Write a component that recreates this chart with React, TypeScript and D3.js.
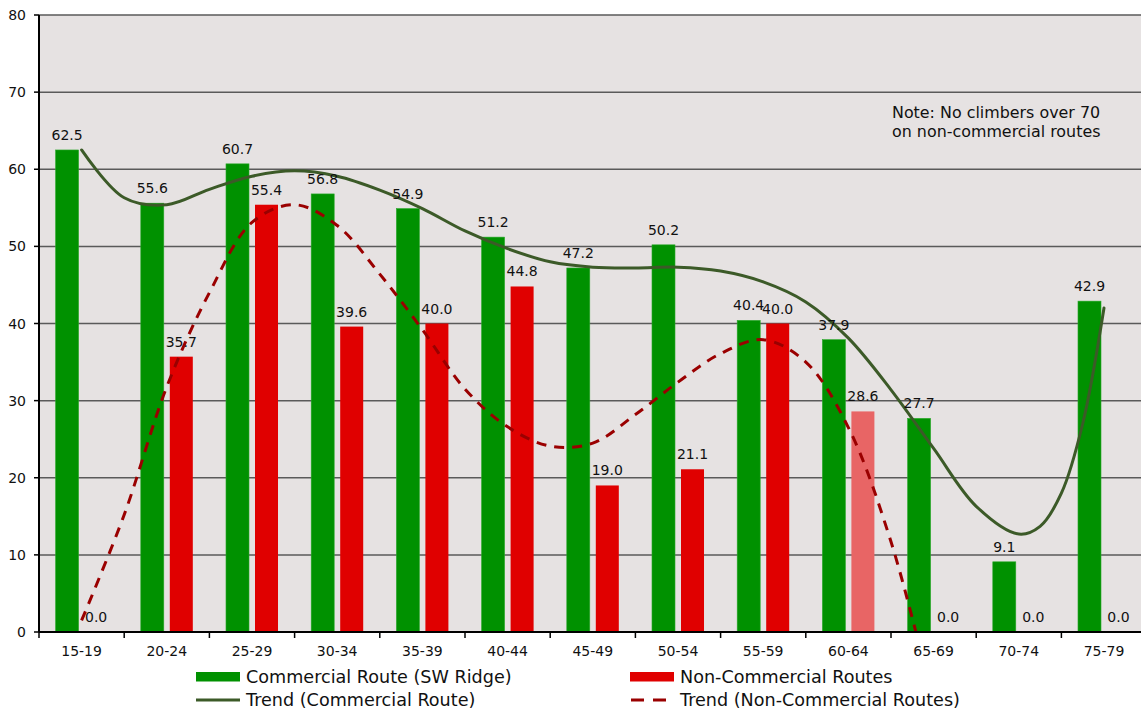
import React from "react";
import * as d3 from "d3";

const categories = ["15-19", "20-24", "25-29", "30-34", "35-39", "40-44", "45-49", "50-54", "55-59", "60-64", "65-69", "70-74", "75-79"];
const commercial = [62.5, 55.6, 60.7, 56.8, 54.9, 51.2, 47.2, 50.2, 40.4, 37.9, 27.7, 9.1, 42.9];
const nonCommercial = [0.0, 35.7, 55.4, 39.6, 40.0, 44.8, 19.0, 21.1, 40.0, 28.6, 0.0, 0.0, 0.0];
// trend values; positions are in category-index units (0 = 15-19)
const commercialTrendPos = [0, 0.5, 1, 1.5, 2, 2.5, 3, 3.5, 4, 4.5, 5, 5.5, 6, 6.5, 7, 7.5, 8, 8.5, 9, 9.5, 10, 10.5, 11, 11.25, 11.5, 11.75, 12];
const commercialTrend = [62.5, 56.3, 55.4, 57.4, 59.1, 59.8, 59.1, 57.3, 54.9, 52.0, 49.7, 48.0, 47.3, 47.2, 47.3, 46.8, 45.4, 42.8, 38.1, 31.4, 23.8, 16.3, 12.7, 13.7, 18.0, 27.0, 42.0];
const nonCommercialTrendPos = [0, 0.5, 1, 1.5, 2, 2.5, 3, 3.5, 4, 4.5, 5, 5.5, 6, 6.5, 7, 7.5, 8, 8.5, 9, 9.5, 10];
const nonCommercialTrend = [1.5, 15.2, 31.8, 44.0, 53.1, 55.4, 52.7, 46.4, 39.2, 31.5, 26.6, 24.1, 24.5, 28.2, 32.4, 36.1, 37.9, 35.0, 26.5, 11.7, -9.2];
const yTicks = [0, 10, 20, 30, 40, 50, 60, 70, 80];
const fadedCategory = "60-64";
const noteLines = ["Note: No climbers over 70", "on non-commercial routes"];
const legendItems = [
  { label: "Commercial Route (SW Ridge)", kind: "bar", color: "#009100" },
  { label: "Non-Commercial Routes", kind: "bar", color: "#e00000" },
  { label: "Trend (Commercial Route)", kind: "line", color: "#3c5a28" },
  { label: "Trend (Non-Commercial Routes)", kind: "dash", color: "#9a0000" },
];

const W = 1141, H = 711;
const left = 39, top = 15, bottom = 632;
const bandW = 85.2;
const right = left + bandW * categories.length;
const FONT = "'DejaVu Sans', Verdana, sans-serif";
const GREEN = "#009100", RED = "#e00000", RED_FADED = "#e86565";
const BG = "#e6e2e2", GRID = "#5a5a5a";
const TREND_G = "#3c5a28", TREND_R = "#9a0000";

export default function App() {
  const x = d3.scaleBand<string>().domain(categories).range([left, right]).padding(0);
  const inner = d3.scaleBand<string>().domain(["c", "n"]).range([0, x.bandwidth()]).paddingInner(0.207).paddingOuter(0.572);
  const y = d3.scaleLinear().domain([0, 80]).range([bottom, top]);
  const c0 = (x(categories[0]) as number) + x.bandwidth() / 2;
  const xt = d3.scaleLinear().domain([0, 1]).range([c0, c0 + x.step()]);

  const lineG = d3.line<number>().x((_, i) => xt(commercialTrendPos[i])).y((d) => y(d)).curve(d3.curveCatmullRom.alpha(0.5));
  const lineR = d3.line<number>().x((_, i) => xt(nonCommercialTrendPos[i])).y((d) => y(d)).curve(d3.curveCatmullRom.alpha(0.5));

  const bw = inner.bandwidth();
  const legendX = [196, 630];
  const legendY = [677, 700];

  return (
    <svg width={W} height={H} style={{ position: "absolute", left: 0, top: 0, fontFamily: FONT }}>
      <defs>
        <clipPath id="plotClip">
          <rect x={left} y={top - 2} width={W - left} height={bottom - top + 2} />
        </clipPath>
      </defs>
      <rect x={0} y={0} width={W} height={H} fill="#ffffff" />
      <rect x={left} y={top} width={right - left} height={bottom - top} fill={BG} />
      {yTicks.map((t) => (
        <g key={t}>
          {t > 0 && <line x1={left} x2={right} y1={y(t)} y2={y(t)} stroke={GRID} strokeWidth={1.5} />}
          <line x1={left - 5} x2={left} y1={y(t)} y2={y(t)} stroke="#000" strokeWidth={1.5} />
          <text x={26} y={y(t) + 5} textAnchor="end" fontSize={14} fill="#111">{t}</text>
        </g>
      ))}
      {categories.map((c, i) => {
        const bx = x(c) as number;
        return (
          <g key={c}>
            <rect x={bx + (inner("c") as number)} y={y(commercial[i])} width={bw} height={bottom - y(commercial[i])} fill={GREEN} stroke="#2aa82a" strokeWidth={0.6} />
            <rect x={bx + (inner("n") as number)} y={y(nonCommercial[i])} width={bw} height={bottom - y(nonCommercial[i])} fill={c === fadedCategory ? RED_FADED : RED} />
          </g>
        );
      })}
      <g clipPath="url(#plotClip)">
        <path d={lineG(commercialTrend) || ""} fill="none" stroke={TREND_G} strokeWidth={3} strokeLinecap="round" />
        <path d={lineR(nonCommercialTrend) || ""} fill="none" stroke={TREND_R} strokeWidth={3} strokeDasharray="10,8" />
      </g>
      {categories.map((c, i) => {
        const bx = x(c) as number;
        return (
          <g key={"l" + c} fontSize={14} fill="#111" textAnchor="middle">
            <text x={bx + (inner("c") as number) + bw / 2} y={y(commercial[i]) - 10}>{commercial[i].toFixed(1)}</text>
            <text x={bx + (inner("n") as number) + bw / 2} y={y(nonCommercial[i]) - 10}>{nonCommercial[i].toFixed(1)}</text>
          </g>
        );
      })}
      <line x1={left} x2={left} y1={top} y2={bottom} stroke="#000" strokeWidth={2} />
      <line x1={left} x2={right} y1={bottom} y2={bottom} stroke="#000" strokeWidth={2} />
      {categories.map((c) => (
        <line key={"t" + c} x1={x(c) as number} x2={x(c) as number} y1={bottom} y2={bottom + 6} stroke="#000" strokeWidth={1.5} />
      ))}
      {categories.map((c) => (
        <text key={"x" + c} x={(x(c) as number) + x.bandwidth() / 2} y={656} textAnchor="middle" fontSize={14} fill="#111">{c}</text>
      ))}
      {noteLines.map((s, i) => (
        <text key={s} x={892} y={118 + i * 19} fontSize={15.9} fill="#111">{s}</text>
      ))}
      {legendItems.map((it, i) => {
        const lx = legendX[i % 2];
        const ly = legendY[Math.floor(i / 2)];
        return (
          <g key={it.label}>
            {it.kind === "bar" && <rect x={lx} y={ly - 5} width={44} height={9.5} fill={it.color} />}
            {it.kind === "line" && <line x1={lx} x2={lx + 44} y1={ly} y2={ly} stroke={it.color} strokeWidth={3} />}
            {it.kind === "dash" && <line x1={lx + 1} x2={lx + 44} y1={ly} y2={ly} stroke={it.color} strokeWidth={3} strokeDasharray="13,9" />}
            <text x={lx + 50} y={ly + 6} fontSize={17.6} fill="#111">{it.label}</text>
          </g>
        );
      })}
    </svg>
  );
}
